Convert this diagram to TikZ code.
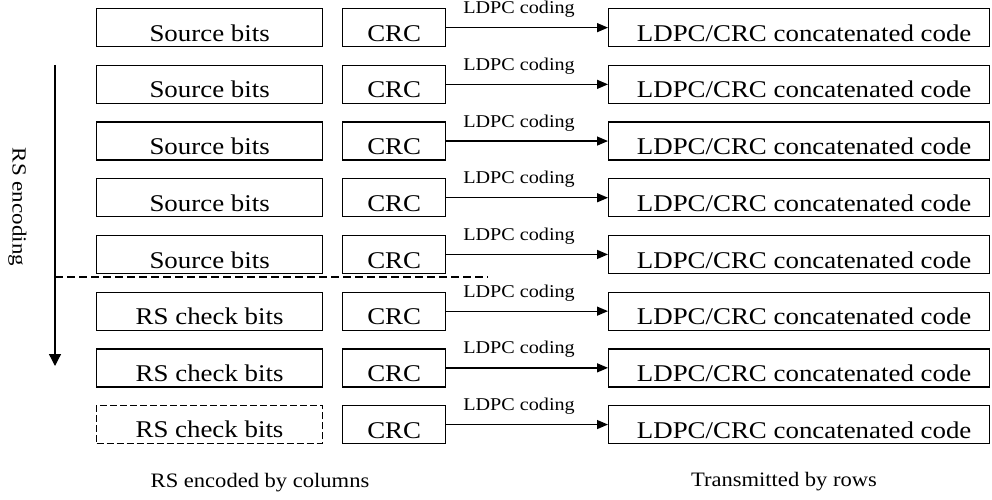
\documentclass[tikz,border=0pt]{standalone}
\usepackage{fontspec}
\setmainfont{Liberation Serif}
\usepackage{graphicx}
\usetikzlibrary{arrows.meta,calc}
% slightly widened lettering
\newcommand{\wide}[1]{\scalebox{1.12}[1]{#1}}
\tikzset{
  blk/.style={draw, line width=1.3pt, minimum height=38pt, inner sep=0pt, anchor=north west},
  dashbox/.style={dash pattern=on 7pt off 3pt, line width=1pt},
  boxtext/.style={font=\fontsize{24}{28}\selectfont, anchor=base, inner sep=0pt},
  edgetext/.style={font=\fontsize{18}{21}\selectfont, anchor=base, inner sep=0pt},
  captext/.style={font=\fontsize{20.5}{24}\selectfont, anchor=base, inner sep=0pt},
  flow/.style={line width=1.3pt, -{Triangle[length=11pt,width=9pt]}},
}
\begin{document}
\begin{tikzpicture}[x=1pt,y=-1pt]
\useasboundingbox (0,0) rectangle (992,500);

% one row per code word: data block, CRC block, LDPC/CRC code word
\foreach \i/\lab/\sty in {1/Source bits/solid,2/Source bits/solid,3/Source bits/solid,
    4/Source bits/solid,5/Source bits/solid,6/RS check bits/solid,
    7/RS check bits/solid,8/RS check bits/dashbox}{
  \pgfmathsetmacro\rowtop{8+56.7*(\i-1)}
  \node[blk, minimum width=226pt, \sty] (src\i) at (96,\rowtop) {};
  \node[boxtext] (srct\i) at ($(src\i.south)+(0,-6)$) {\wide{\lab}};
  \node[blk, minimum width=103pt] (crc\i) at (342,\rowtop) {};
  \node[boxtext] (crct\i) at ($(crc\i.south)+(0,-6)$) {\wide{CRC}};
  \node[blk, minimum width=381pt] (out\i) at (608,\rowtop) {};
  \node[boxtext] (outt\i) at ($(out\i.south)+(5,-6)$) {\wide{LDPC/CRC concatenated code}};
  \draw[flow] (crc\i.east) -- (out\i.west)
    node[edgetext, pos=0.45, yshift=14pt] (ldpc\i) {\wide{LDPC coding}};
}

% column direction of the RS code
\coordinate (rstop) at (55,65);
\coordinate (rsbot) at (55,366);
\draw[line width=1.3pt, -{Triangle[length=12pt,width=12pt]}] (rstop) -- (rsbot);
\node[font=\fontsize{20}{24}\selectfont, rotate=-90, anchor=base, inner sep=0pt] (rslab) at (12.7,207)
  {\scalebox{1.15}[1]{RS encoding}};

% boundary between source rows and check rows
\coordinate (sepl) at (55,277);
\coordinate (sepr) at (488,277);
\draw[line width=1.5pt, dash pattern=on 8pt off 4pt] (sepl) -- (sepr);

% captions
\node[captext] (capl) at (260,487) {\scalebox{1.1}[1]{RS encoded by columns}};
\node[captext] (capr) at (784,486) {\scalebox{1.1}[1]{Transmitted by rows}};
\end{tikzpicture}
\end{document}
